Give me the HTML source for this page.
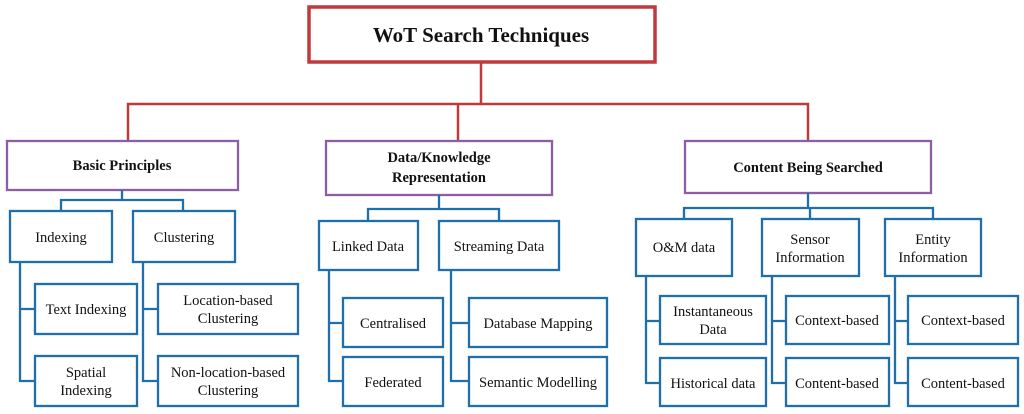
<!DOCTYPE html>
<html><head><meta charset="utf-8"><style>
html,body{margin:0;padding:0;background:#fff;}
svg{display:block;}
text{font-family:"Liberation Serif",serif;fill:#111;}
.b{fill:none;stroke:#1f6fad;stroke-width:2.3;}
.p{fill:#fff;stroke:#8e5ea2;stroke-width:2.3;}
.bx{fill:#fff;stroke:#1f6fad;stroke-width:2.3;}
.r{fill:none;stroke:#c0393b;stroke-width:2.5;}
.t{font-size:14.5px;text-anchor:middle;}
.h{font-size:14.5px;font-weight:bold;text-anchor:middle;}
</style></head><body>
<svg width="1024" height="414" viewBox="0 0 1024 414">
<!-- red connectors -->
<path class="r" d="M481 62V104M128 140V104H808V140M458 104V140"/>
<rect x="309" y="7" width="346" height="55" fill="#fff" stroke="#c0393b" stroke-width="3.5"/>
<text x="481" y="42" style="font-size:21px;font-weight:bold;text-anchor:middle">WoT Search Techniques</text>

<!-- level 2 -->
<rect class="p" x="7" y="141" width="231" height="49"/>
<text class="h" x="122" y="170">Basic Principles</text>
<rect class="p" x="326" y="141" width="226" height="54"/>
<text class="h" x="439" y="162">Data/Knowledge</text>
<text class="h" x="439" y="182">Representation</text>
<rect class="p" x="685" y="141" width="246" height="52"/>
<text class="h" x="808" y="172">Content Being Searched</text>

<!-- blue connectors -->
<path class="b" d="M122 190V200M61 211V200H183V211M20 262V381H35M20 309H35M143 262V381H158M143 309H158"/>
<path class="b" d="M439 195V209M368 221V209H499V221M329 270V381H343M329 323H343M451 270V381H469M451 323H469"/>
<path class="b" d="M808 193V208M684 219V208H933V219M810 208V219M646 276V383H660M646 321H660M772 276V383H786M772 321H786M895 276V383H908M895 321H908"/>

<!-- Basic Principles subtree -->
<rect class="bx" x="10" y="211" width="102" height="51"/><text class="t" x="61" y="242">Indexing</text>
<rect class="bx" x="133" y="211" width="102" height="51"/><text class="t" x="184" y="242">Clustering</text>
<rect class="bx" x="35" y="284" width="102" height="50"/><text class="t" x="86" y="314">Text Indexing</text>
<rect class="bx" x="35" y="356" width="102" height="50"/><text class="t" x="86" y="377">Spatial</text><text class="t" x="86" y="395">Indexing</text>
<rect class="bx" x="158" y="284" width="140" height="50"/><text class="t" x="228" y="305">Location-based</text><text class="t" x="228" y="323">Clustering</text>
<rect class="bx" x="158" y="356" width="140" height="50"/><text class="t" x="228" y="377">Non-location-based</text><text class="t" x="228" y="395">Clustering</text>

<!-- Data/Knowledge subtree -->
<rect class="bx" x="319" y="221" width="99" height="49"/><text class="t" x="368" y="251">Linked Data</text>
<rect class="bx" x="439" y="221" width="120" height="49"/><text class="t" x="499" y="251">Streaming Data</text>
<rect class="bx" x="343" y="298" width="100" height="49"/><text class="t" x="393" y="328">Centralised</text>
<rect class="bx" x="343" y="357" width="100" height="49"/><text class="t" x="393" y="387">Federated</text>
<rect class="bx" x="469" y="298" width="138" height="49"/><text class="t" x="538" y="328">Database Mapping</text>
<rect class="bx" x="469" y="357" width="138" height="49"/><text class="t" x="538" y="387">Semantic Modelling</text>

<!-- Content subtree -->
<rect class="bx" x="636" y="219" width="96" height="57"/><text class="t" x="684" y="252">O&amp;M data</text>
<rect class="bx" x="762" y="219" width="97" height="57"/><text class="t" x="810" y="244">Sensor</text><text class="t" x="810" y="262">Information</text>
<rect class="bx" x="885" y="219" width="96" height="57"/><text class="t" x="933" y="244">Entity</text><text class="t" x="933" y="262">Information</text>
<rect class="bx" x="660" y="296" width="106" height="48"/><text class="t" x="713" y="316">Instantaneous</text><text class="t" x="713" y="334">Data</text>
<rect class="bx" x="660" y="358" width="106" height="48"/><text class="t" x="713" y="388">Historical data</text>
<rect class="bx" x="786" y="296" width="103" height="48"/><text class="t" x="837" y="325">Context-based</text>
<rect class="bx" x="786" y="358" width="103" height="48"/><text class="t" x="837" y="388">Content-based</text>
<rect class="bx" x="908" y="296" width="110" height="48"/><text class="t" x="963" y="325">Context-based</text>
<rect class="bx" x="908" y="358" width="110" height="48"/><text class="t" x="963" y="388">Content-based</text>
</svg>
</body></html>
